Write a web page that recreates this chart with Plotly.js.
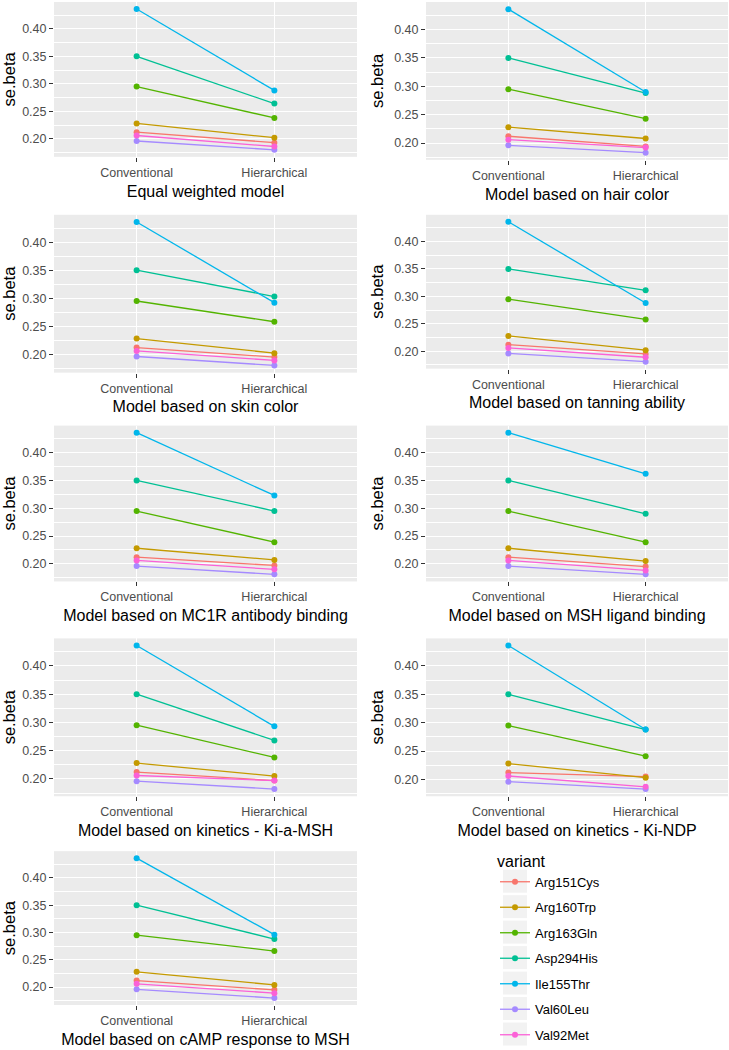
<!DOCTYPE html>
<html>
<head>
<meta charset="utf-8">
<script src="https://cdn.plot.ly/plotly-3.0.1.min.js"></script>
<style>
  html, body { margin: 0; padding: 0; background: #ffffff; }
  #chart { width: 729px; height: 1050px; }
</style>
</head>
<body>
<div id="chart"></div>
<script>
// ---------- data ----------
const categories = ['Conventional', 'Hierarchical'];
const variants = ['Arg151Cys', 'Arg160Trp', 'Arg163Gln', 'Asp294His', 'Ile155Thr', 'Val60Leu', 'Val92Met'];
const variantColors = ['#F8766D', '#C49A00', '#53B400', '#00C094', '#00B6EB', '#A58AFF', '#FB61D7'];

const panelTitles = [
  'Equal weighted model',
  'Model based on hair color',
  'Model based on skin color',
  'Model based on tanning ability',
  'Model based on MC1R antibody binding',
  'Model based on MSH ligand binding',
  'Model based on kinetics - Ki-a-MSH',
  'Model based on kinetics - Ki-NDP',
  'Model based on cAMP response to MSH'
];

// se.beta of the conventional model (same in every panel), variant order as above
const conventional = [0.212, 0.228, 0.295, 0.350, 0.436, 0.196, 0.206];

// se.beta of the hierarchical model, one array per panel
const hierEqual   = [0.193, 0.202, 0.238, 0.264, 0.288, 0.180, 0.186];
const hierHair    = [0.194, 0.208, 0.243, 0.288, 0.290, 0.183, 0.192];
const hierSkin    = [0.195, 0.202, 0.258, 0.303, 0.292, 0.180, 0.189];
const hierTanning = [0.195, 0.202, 0.258, 0.311, 0.288, 0.181, 0.189];
const hierMC1R    = [0.197, 0.207, 0.239, 0.295, 0.323, 0.181, 0.190];
const hierMSH     = [0.195, 0.205, 0.239, 0.290, 0.362, 0.181, 0.188];
const hierKiaMSH  = [0.197, 0.205, 0.238, 0.268, 0.293, 0.182, 0.197];
const hierKiNDP   = [0.205, 0.203, 0.241, 0.288, 0.288, 0.183, 0.187];
const hierCAMP    = [0.195, 0.204, 0.266, 0.288, 0.296, 0.180, 0.189];

const hierarchical = [hierEqual, hierHair, hierSkin, hierTanning, hierMC1R, hierMSH, hierKiaMSH, hierKiNDP, hierCAMP];

const yTickVals = [0.20, 0.25, 0.30, 0.35, 0.40];
const yTickText = ['0.20', '0.25', '0.30', '0.35', '0.40'];

// ---------- layout geometry (pixels) ----------
const W = 729, H = 1050;
const colX = [[54, 357], [426, 728]];
const panelRows = [ // [top, bottom] for each panel
  [2, 157], [2, 160],
  [215, 373], [215, 369],
  [426, 582], [426, 582],
  [639, 797], [639, 797],
  [852, 1006]
];
// legend key background boxes (ggplot style)
const keyBox = {x0: 503, x1: 527, firstCenter: 882, step: 25.5, half: 11.5};

const FONT = '"Liberation Sans", Arial, sans-serif';
const traces = [];
const layout = {
  width: W, height: H,
  margin: {l: 0, r: 0, t: 0, b: 0},
  paper_bgcolor: '#ffffff',
  plot_bgcolor: '#EBEBEB',
  font: {family: FONT, color: '#000000'},
  showlegend: true,
  legend: {
    x: 495 / W, y: 1 - 847 / H, xanchor: 'left', yanchor: 'top',
    bgcolor: 'rgba(255,255,255,0)',
    font: {family: FONT, size: 13, color: '#000000'},
    title: {text: 'variant', font: {family: FONT, size: 16, color: '#000000'}},
    traceorder: 'grouped',
    tracegroupgap: 5.6,
    itemwidth: 30
  },
  shapes: variants.map(function (v, k) {
    const c = keyBox.firstCenter + keyBox.step * k;
    return {
      type: 'rect', xref: 'paper', yref: 'paper', layer: 'above',
      x0: keyBox.x0 / W, x1: keyBox.x1 / W,
      y0: 1 - (c + keyBox.half) / H, y1: 1 - (c - keyBox.half) / H,
      fillcolor: '#F2F2F2', line: {width: 0}
    };
  })
};

panelTitles.forEach(function (title, p) {
  const idx = p === 0 ? '' : String(p + 1);
  const xa = 'x' + idx, ya = 'y' + idx;
  const col = p % 2;
  const [top, bottom] = panelRows[p];
  const hier = hierarchical[p];

  // y range with ggplot-style 5% expansion
  const all = conventional.concat(hier);
  const mn = Math.min.apply(null, all), mx = Math.max.apply(null, all);
  const pad = (mx - mn) * 0.05;

  variants.forEach(function (v, i) {
    traces.push({
      type: 'scatter',
      mode: 'lines+markers',
      x: categories,
      y: [conventional[i], hier[i]],
      xaxis: xa, yaxis: ya,
      name: v,
      legendgroup: v,
      showlegend: p === 0,
      line: {color: variantColors[i], width: 1.3},
      marker: {color: variantColors[i], size: 6},
      hovertemplate: v + ': %{y:.3f}<extra></extra>'
    });
  });

  layout['xaxis' + idx] = {
    domain: [colX[col][0] / W, colX[col][1] / W],
    anchor: ya,
    type: 'category',
    range: [-0.6, 1.6],
    showgrid: true, gridcolor: '#ffffff', gridwidth: 1.1,
    zeroline: false, showline: false,
    ticks: 'outside', ticklen: 4, tickwidth: 1, tickcolor: '#333333',
    tickfont: {family: FONT, size: 12.5, color: '#4D4D4D'},
    title: {text: title, font: {family: FONT, size: 16, color: '#000000'}, standoff: 6},
    fixedrange: true
  };
  layout['yaxis' + idx] = {
    domain: [1 - bottom / H, 1 - top / H],
    anchor: xa,
    range: [mn - pad, mx + pad],
    tickmode: 'array', tickvals: yTickVals, ticktext: yTickText,
    showgrid: true, gridcolor: '#ffffff', gridwidth: 1.1,
    minor: {tickmode: 'linear', tick0: 0.025, dtick: 0.05, showgrid: true, gridcolor: '#ffffff', gridwidth: 0.55},
    zeroline: false, showline: false,
    ticks: 'outside', ticklen: 4, tickwidth: 1, tickcolor: '#333333',
    tickfont: {family: FONT, size: 12.5, color: '#4D4D4D'},
    title: {text: 'se.beta', font: {family: FONT, size: 16.5, color: '#000000'}, standoff: 6},
    fixedrange: true
  };
});

Plotly.newPlot('chart', traces, layout, {displayModeBar: false});
</script>
</body>
</html>
